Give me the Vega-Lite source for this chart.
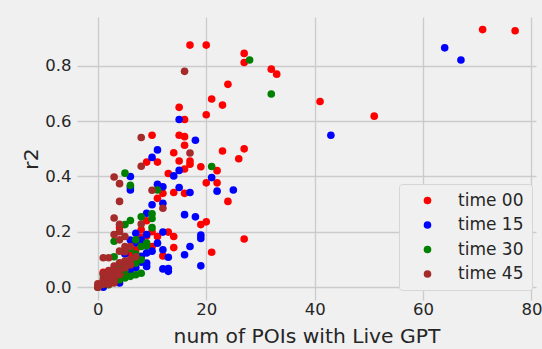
{
  "$schema": "https://vega.github.io/schema/vega-lite/v6.json",
  "autosize": {"type": "none"},
  "width": 459,
  "height": 283,
  "padding": {"left": 77, "top": 17, "right": 6, "bottom": 49},
  "background": "#f0f0f0",
  "config": {
    "view": {"fill": "#f0f0f0", "stroke": null},
    "font": "DejaVu Sans",
    "axis": {
      "grid": true, "gridColor": "#cbcbcb", "gridWidth": 1.3,
      "domain": false, "ticks": false, "tickSize": 0,
      "labelFont": "DejaVu Sans", "labelFontSize": 16.5, "labelColor": "#262626",
      "titleFont": "DejaVu Sans", "titleFontSize": 20.3, "titleColor": "#262626", "titleFontWeight": "normal"
    },
    "legend": {
      "labelFont": "DejaVu Sans", "labelFontSize": 17, "labelColor": "#262626"
    }
  },
  "data": {
    "values": [
      {"t":"time 00","x":77,"y":0.927},{"t":"time 00","x":71,"y":0.931},{"t":"time 00","x":51,"y":0.618},{"t":"time 00","x":41,"y":0.671},
      {"t":"time 00","x":33,"y":0.77},{"t":"time 00","x":32,"y":0.788},{"t":"time 00","x":27,"y":0.845},{"t":"time 00","x":27,"y":0.812},
      {"t":"time 00","x":24,"y":0.733},{"t":"time 00","x":23,"y":0.658},{"t":"time 00","x":21,"y":0.68},{"t":"time 00","x":20,"y":0.875},
      {"t":"time 00","x":17,"y":0.875},{"t":"time 00","x":20,"y":0.623},{"t":"time 00","x":15,"y":0.65},{"t":"time 00","x":16,"y":0.606},
      {"t":"time 00","x":10,"y":0.549},{"t":"time 00","x":15,"y":0.549},{"t":"time 00","x":16,"y":0.544},{"t":"time 00","x":16,"y":0.513},
      {"t":"time 00","x":14,"y":0.486},{"t":"time 00","x":27,"y":0.5},{"t":"time 00","x":23,"y":0.492},{"t":"time 00","x":26,"y":0.464},
      {"t":"time 00","x":15,"y":0.456},{"t":"time 00","x":17,"y":0.456},{"t":"time 00","x":17,"y":0.444},{"t":"time 00","x":9,"y":0.452},
      {"t":"time 00","x":11,"y":0.452},{"t":"time 00","x":16,"y":0.427},{"t":"time 00","x":19,"y":0.435},{"t":"time 00","x":22,"y":0.421},
      {"t":"time 00","x":13,"y":0.411},{"t":"time 00","x":20,"y":0.377},{"t":"time 00","x":22,"y":0.377},{"t":"time 00","x":14,"y":0.342},
      {"t":"time 00","x":16,"y":0.339},{"t":"time 00","x":12,"y":0.339},{"t":"time 00","x":11,"y":0.321},{"t":"time 00","x":24,"y":0.31},
      {"t":"time 00","x":19,"y":0.226},{"t":"time 00","x":20,"y":0.236},{"t":"time 00","x":27,"y":0.174},{"t":"time 00","x":21,"y":0.126},
      {"t":"time 00","x":13,"y":0.199},{"t":"time 00","x":14,"y":0.183},{"t":"time 00","x":14,"y":0.143},{"t":"time 00","x":12,"y":0.113},
      {"t":"time 00","x":11,"y":0.183},{"t":"time 00","x":10,"y":0.147},{"t":"time 00","x":8,"y":0.207},{"t":"time 00","x":9,"y":0.24},
      {"t":"time 00","x":7,"y":0.135},{"t":"time 00","x":4,"y":0.215},{"t":"time 00","x":6,"y":0.12},{"t":"time 00","x":5,"y":0.09},
      {"t":"time 00","x":3,"y":0.06},{"t":"time 00","x":2,"y":0.03},{"t":"time 00","x":1,"y":0.02},{"t":"time 00","x":0,"y":0},
      {"t":"time 00","x":9,"y":0.185},{"t":"time 00","x":8,"y":0.18},{"t":"time 00","x":10,"y":0.2},{"t":"time 00","x":5,"y":0.05},
      {"t":"time 00","x":4,"y":0.04},{"t":"time 00","x":6,"y":0.08},{"t":"time 00","x":7,"y":0.1},{"t":"time 00","x":1,"y":0.054},

      {"t":"time 15","x":64,"y":0.865},{"t":"time 15","x":67,"y":0.821},{"t":"time 15","x":43,"y":0.549},{"t":"time 15","x":15,"y":0.606},
      {"t":"time 15","x":18,"y":0.531},{"t":"time 15","x":11,"y":0.496},{"t":"time 15","x":10,"y":0.469},{"t":"time 15","x":15,"y":0.422},
      {"t":"time 15","x":14,"y":0.402},{"t":"time 15","x":21,"y":0.396},{"t":"time 15","x":6,"y":0.4},{"t":"time 15","x":6,"y":0.351},
      {"t":"time 15","x":6,"y":0.362},{"t":"time 15","x":11,"y":0.372},{"t":"time 15","x":12,"y":0.363},{"t":"time 15","x":15,"y":0.36},
      {"t":"time 15","x":17,"y":0.342},{"t":"time 15","x":22,"y":0.347},{"t":"time 15","x":25,"y":0.351},{"t":"time 15","x":10,"y":0.298},
      {"t":"time 15","x":12,"y":0.303},{"t":"time 15","x":9,"y":0.267},{"t":"time 15","x":16,"y":0.262},{"t":"time 15","x":18,"y":0.254},
      {"t":"time 15","x":19,"y":0.188},{"t":"time 15","x":19,"y":0.176},{"t":"time 15","x":12,"y":0.199},{"t":"time 15","x":7,"y":0.195},
      {"t":"time 15","x":17,"y":0.147},{"t":"time 15","x":16,"y":0.117},{"t":"time 15","x":11,"y":0.159},{"t":"time 15","x":12,"y":0.135},
      {"t":"time 15","x":13,"y":0.108},{"t":"time 15","x":19,"y":0.077},{"t":"time 15","x":12,"y":0.066},{"t":"time 15","x":13,"y":0.067},
      {"t":"time 15","x":13,"y":0.057},{"t":"time 15","x":9,"y":0.087},{"t":"time 15","x":9,"y":0.075},{"t":"time 15","x":8,"y":0.111},
      {"t":"time 15","x":9,"y":0.124},{"t":"time 15","x":6,"y":0.063},{"t":"time 15","x":5,"y":0.075},{"t":"time 15","x":4,"y":0.015},
      {"t":"time 15","x":2,"y":0.05},{"t":"time 15","x":1,"y":0},{"t":"time 15","x":7,"y":0.16},{"t":"time 15","x":6,"y":0.17},
      {"t":"time 15","x":5,"y":0.12},{"t":"time 15","x":3,"y":0.03},{"t":"time 15","x":4,"y":0.06},{"t":"time 15","x":8,"y":0.09},
      {"t":"time 15","x":10,"y":0.13},{"t":"time 15","x":9,"y":0.19},{"t":"time 15","x":8,"y":0.17},{"t":"time 15","x":7,"y":0.07},

      {"t":"time 30","x":28,"y":0.821},{"t":"time 30","x":32,"y":0.698},{"t":"time 30","x":21,"y":0.436},{"t":"time 30","x":11,"y":0.351},
      {"t":"time 30","x":5,"y":0.412},{"t":"time 30","x":6,"y":0.368},{"t":"time 30","x":10,"y":0.265},{"t":"time 30","x":10,"y":0.248},
      {"t":"time 30","x":8,"y":0.254},{"t":"time 30","x":10,"y":0.215},{"t":"time 30","x":6,"y":0.241},{"t":"time 30","x":5,"y":0.226},
      {"t":"time 30","x":3,"y":0.166},{"t":"time 30","x":3,"y":0.11},{"t":"time 30","x":7,"y":0.171},{"t":"time 30","x":8,"y":0.147},
      {"t":"time 30","x":9,"y":0.159},{"t":"time 30","x":8,"y":0.099},{"t":"time 30","x":7,"y":0.087},{"t":"time 30","x":8,"y":0.05},
      {"t":"time 30","x":7,"y":0.045},{"t":"time 30","x":6,"y":0.039},{"t":"time 30","x":5,"y":0.033},{"t":"time 30","x":4,"y":0.027},
      {"t":"time 30","x":2,"y":0.009},{"t":"time 30","x":1,"y":0.045},{"t":"time 30","x":0,"y":0},{"t":"time 30","x":9,"y":0.15},
      {"t":"time 30","x":7,"y":0.12},{"t":"time 30","x":6,"y":0.09},{"t":"time 30","x":5,"y":0.06},{"t":"time 30","x":4,"y":0.07},
      {"t":"time 30","x":2,"y":0.03},{"t":"time 30","x":3,"y":0.05},{"t":"time 30","x":1,"y":0.02},{"t":"time 30","x":6,"y":0.14},

      {"t":"time 45","x":16,"y":0.78},{"t":"time 45","x":8,"y":0.541},{"t":"time 45","x":17,"y":0.485},{"t":"time 45","x":8,"y":0.437},
      {"t":"time 45","x":3,"y":0.398},{"t":"time 45","x":4,"y":0.374},{"t":"time 45","x":10,"y":0.35},{"t":"time 45","x":4,"y":0.31},
      {"t":"time 45","x":12,"y":0.285},{"t":"time 45","x":3,"y":0.25},{"t":"time 45","x":4,"y":0.227},{"t":"time 45","x":8,"y":0.228},
      {"t":"time 45","x":3,"y":0.19},{"t":"time 45","x":4,"y":0.171},{"t":"time 45","x":5,"y":0.183},{"t":"time 45","x":4,"y":0.2},
      {"t":"time 45","x":5,"y":0.147},{"t":"time 45","x":6,"y":0.147},{"t":"time 45","x":1,"y":0.106},{"t":"time 45","x":2,"y":0.106},
      {"t":"time 45","x":4,"y":0.13},{"t":"time 45","x":5,"y":0.128},{"t":"time 45","x":6,"y":0.1},{"t":"time 45","x":7,"y":0.11},
      {"t":"time 45","x":5,"y":0.094},{"t":"time 45","x":4,"y":0.088},{"t":"time 45","x":3,"y":0.076},{"t":"time 45","x":6,"y":0.08},
      {"t":"time 45","x":5,"y":0.07},{"t":"time 45","x":4,"y":0.06},{"t":"time 45","x":3,"y":0.05},{"t":"time 45","x":2,"y":0.04},
      {"t":"time 45","x":1,"y":0.03},{"t":"time 45","x":0,"y":0},{"t":"time 45","x":1,"y":0.01},{"t":"time 45","x":2,"y":0.02},
      {"t":"time 45","x":3,"y":0.03},{"t":"time 45","x":2,"y":0.06},{"t":"time 45","x":3,"y":0.065},{"t":"time 45","x":4,"y":0.045},
      {"t":"time 45","x":1,"y":0.05},{"t":"time 45","x":0,"y":0.012},{"t":"time 45","x":2,"y":0.01},{"t":"time 45","x":3,"y":0.015}
    ]
  },
  "mark": {"type": "point", "filled": true, "opacity": 1, "size": 58, "shape": "circle"},
  "encoding": {
    "x": {
      "field": "x", "type": "quantitative",
      "scale": {"domain": [-3.85, 80.85], "nice": false, "zero": false},
      "axis": {"values": [0, 20, 40, 60, 80], "title": "num of POIs with Live GPT", "labelPadding": 1, "titlePadding": 9}
    },
    "y": {
      "field": "y", "type": "quantitative",
      "scale": {"domain": [-0.0465, 0.9765], "nice": false, "zero": false},
      "axis": {"values": [0, 0.2, 0.4, 0.6, 0.8], "format": ".1f", "title": "r2", "labelPadding": 6, "titlePadding": 3}
    },
    "color": {
      "field": "t", "type": "nominal",
      "scale": {"domain": ["time 00", "time 15", "time 30", "time 45"], "range": ["#ff0000", "#0000ff", "#008000", "#a52a2a"]},
      "legend": {
        "title": null, "orient": "none", "legendX": 322, "legendY": 167,
        "padding": 8, "symbolOffset": 12, "labelOffset": 22, "rowPadding": 6.5,
        "symbolSize": 58, "symbolType": "circle", "symbolStrokeWidth": 0,
        "fillColor": "#f0f0f0", "strokeColor": "#d6d6d6", "cornerRadius": 3
      }
    }
  }
}
